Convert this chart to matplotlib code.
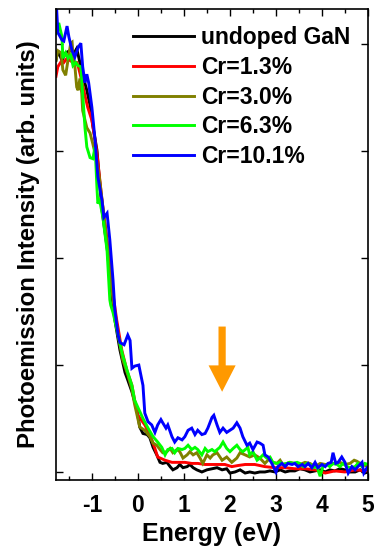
import numpy as np
import matplotlib
matplotlib.use("Agg")
import matplotlib.pyplot as plt
from matplotlib.ticker import MultipleLocator

plt.rcParams['font.family'] = ['Liberation Sans', 'DejaVu Sans']
plt.rcParams['font.weight'] = 'bold'

# (energy eV, intensity arb. units) pairs for each sample
undoped_gan = np.array([
    (-1.78, 3.85), (-1.74, 3.94), (-1.65, 3.85), (-1.57, 3.92), (-1.48, 3.94),
    (-1.37, 3.93), (-1.33, 3.96), (-1.26, 3.83), (-1.20, 3.71), (-1.11, 3.57),
    (-1.04, 3.43), (-0.98, 3.24), (-0.89, 3.01), (-0.78, 2.45), (-0.67, 2.10),
    (-0.57, 1.67), (-0.50, 1.42), (-0.39, 1.14), (-0.28, 0.93), (-0.22, 0.86),
    (-0.13, 0.75), (-0.02, 0.58), (0.04, 0.42), (0.11, 0.36), (0.20, 0.35),
    (0.26, 0.32), (0.33, 0.23), (0.41, 0.16), (0.48, 0.09), (0.54, 0.08),
    (0.63, 0.09), (0.70, 0.05), (0.76, 0.02), (0.85, 0.04), (0.91, 0.07),
    (0.98, 0.04), (1.07, 0.05), (1.13, 0.07), (1.20, 0.04), (1.28, 0.02),
    (1.39, 0.00), (1.50, 0.02), (1.61, 0.03), (1.72, 0.04), (1.83, 0.02),
    (1.93, 0.03), (2.00, -0.01), (2.11, 0.00), (2.22, 0.02), (2.33, -0.01),
    (2.43, 0.00), (2.54, -0.01), (2.65, 0.00), (2.76, 0.00), (2.87, 0.01),
    (2.98, 0.00), (3.09, 0.02), (3.20, 0.00), (3.30, 0.01), (3.41, 0.01),
    (3.52, 0.03), (3.63, 0.02), (3.74, 0.00), (3.85, 0.01), (3.96, 0.02),
    (4.07, 0.00), (4.17, 0.02), (4.28, 0.01), (4.39, 0.03), (4.50, 0.02),
    (4.61, 0.00), (4.72, 0.00), (4.83, 0.02), (4.93, -0.01), (5.00, 0.00),
])

cr_1_3 = np.array([
    (-1.78, 3.70), (-1.74, 3.79), (-1.65, 3.85), (-1.61, 3.83), (-1.54, 3.87),
    (-1.48, 3.85), (-1.41, 3.83), (-1.33, 3.83), (-1.30, 3.80), (-1.22, 3.66),
    (-1.15, 3.52), (-1.09, 3.41), (-1.00, 3.29), (-0.93, 3.10), (-0.89, 2.98),
    (-0.78, 2.54), (-0.67, 2.17), (-0.57, 1.75), (-0.46, 1.42), (-0.35, 1.14),
    (-0.24, 0.95), (-0.13, 0.81), (-0.07, 0.67), (0.00, 0.53), (0.15, 0.44),
    (0.26, 0.35), (0.37, 0.22), (0.43, 0.14), (0.59, 0.11), (0.74, 0.09),
    (0.87, 0.09), (1.02, 0.09), (1.17, 0.08), (1.30, 0.08), (1.46, 0.07),
    (1.61, 0.07), (1.74, 0.07), (1.89, 0.07), (2.04, 0.05), (2.17, 0.06),
    (2.33, 0.07), (2.54, 0.07), (2.76, 0.05), (2.98, 0.04), (3.20, 0.04),
    (3.41, 0.03), (3.63, 0.03), (3.85, 0.02), (4.07, -0.01), (4.28, 0.01),
    (4.50, 0.00), (4.72, 0.02), (5.00, 0.01),
])

cr_3_0 = np.array([
    (-1.78, 3.85), (-1.74, 3.94), (-1.67, 3.92), (-1.63, 3.76), (-1.57, 3.71),
    (-1.52, 3.85), (-1.46, 4.01), (-1.43, 4.02), (-1.41, 3.90), (-1.37, 3.80),
    (-1.33, 3.60), (-1.30, 3.57), (-1.26, 3.68), (-1.22, 3.54), (-1.20, 3.38),
    (-1.11, 3.22), (-1.04, 3.17), (-0.98, 3.07), (-0.91, 2.94), (-0.83, 2.73),
    (-0.74, 2.40), (-0.65, 2.07), (-0.54, 1.61), (-0.43, 1.28), (-0.33, 1.05),
    (-0.22, 0.91), (-0.13, 0.77), (-0.07, 0.63), (0.04, 0.42), (0.15, 0.39),
    (0.26, 0.33), (0.33, 0.27), (0.41, 0.25), (0.48, 0.21), (0.54, 0.18),
    (0.63, 0.19), (0.70, 0.22), (0.76, 0.18), (0.85, 0.21), (0.91, 0.19),
    (0.98, 0.13), (1.07, 0.16), (1.13, 0.19), (1.20, 0.16), (1.28, 0.18),
    (1.35, 0.13), (1.41, 0.08), (1.50, 0.16), (1.57, 0.13), (1.63, 0.16),
    (1.72, 0.18), (1.83, 0.11), (1.93, 0.14), (2.04, 0.09), (2.15, 0.13),
    (2.22, 0.18), (2.33, 0.16), (2.43, 0.14), (2.54, 0.16), (2.65, 0.13),
    (2.76, 0.08), (2.87, 0.13), (2.93, 0.09), (3.02, 0.08), (3.09, 0.11),
    (3.15, 0.07), (3.24, 0.08), (3.30, 0.09), (3.41, 0.08), (3.52, 0.07),
    (3.63, 0.09), (3.74, 0.08), (3.85, 0.05), (3.96, 0.08), (4.07, 0.07),
    (4.17, 0.07), (4.28, 0.08), (4.39, 0.09), (4.50, 0.07), (4.61, 0.08),
    (4.70, 0.11), (4.76, 0.10), (4.83, 0.08), (4.89, 0.07), (5.00, 0.05),
])

cr_6_3 = np.array([
    (-1.78, 4.10), (-1.72, 4.20), (-1.65, 4.07), (-1.63, 3.87), (-1.57, 3.92),
    (-1.52, 3.87), (-1.46, 3.90), (-1.41, 3.80), (-1.35, 3.83), (-1.30, 3.80),
    (-1.24, 3.79), (-1.20, 3.54), (-1.15, 3.22), (-1.11, 3.04), (-1.04, 2.94),
    (-0.98, 2.93), (-0.93, 3.04), (-0.91, 2.85), (-0.89, 2.66), (-0.87, 2.51),
    (-0.83, 2.54), (-0.76, 2.38), (-0.67, 2.07), (-0.61, 1.61), (-0.59, 1.56),
    (-0.54, 1.49), (-0.43, 1.28), (-0.33, 1.09), (-0.22, 0.93), (-0.13, 0.81),
    (-0.07, 0.67), (0.11, 0.50), (0.22, 0.41), (0.33, 0.33), (0.43, 0.28),
    (0.52, 0.23), (0.59, 0.16), (0.65, 0.21), (0.74, 0.22), (0.80, 0.18),
    (0.87, 0.22), (0.96, 0.21), (1.02, 0.22), (1.09, 0.25), (1.17, 0.21),
    (1.24, 0.23), (1.30, 0.21), (1.39, 0.16), (1.46, 0.22), (1.52, 0.19),
    (1.61, 0.21), (1.67, 0.19), (1.78, 0.23), (1.85, 0.28), (1.93, 0.22),
    (2.00, 0.19), (2.07, 0.22), (2.15, 0.25), (2.22, 0.21), (2.28, 0.19),
    (2.39, 0.23), (2.43, 0.16), (2.50, 0.19), (2.59, 0.11), (2.65, 0.13),
    (2.72, 0.16), (2.80, 0.13), (2.87, 0.14), (2.93, 0.09), (3.02, 0.08),
    (3.09, 0.09), (3.15, 0.07), (3.24, 0.08), (3.30, 0.09), (3.37, 0.08),
    (3.46, 0.09), (3.52, 0.08), (3.59, 0.05), (3.67, 0.08), (3.74, 0.07),
    (3.80, 0.04), (3.89, 0.05), (3.96, -0.04), (4.02, 0.05), (4.11, 0.07),
    (4.17, 0.05), (4.24, 0.08), (4.33, 0.07), (4.39, 0.05), (4.46, 0.08),
    (4.54, 0.05), (4.61, 0.04), (4.72, 0.05), (4.78, 0.08), (4.87, 0.05),
    (4.93, 0.08), (5.00, 0.07),
])

cr_10_1 = np.array([
    (-1.78, 4.45), (-1.74, 4.11), (-1.65, 4.04), (-1.61, 4.03), (-1.54, 4.17),
    (-1.50, 4.07), (-1.43, 3.94), (-1.37, 3.88), (-1.30, 3.97), (-1.24, 4.01),
    (-1.20, 3.79), (-1.15, 3.64), (-1.11, 3.72), (-1.07, 3.64), (-1.00, 3.41),
    (-0.93, 3.10), (-0.87, 2.76), (-0.78, 2.54), (-0.74, 2.38), (-0.67, 2.42),
    (-0.61, 2.17), (-0.54, 1.79), (-0.50, 1.51), (-0.43, 1.28), (-0.39, 1.21),
    (-0.30, 1.19), (-0.22, 1.28), (-0.17, 1.23), (-0.13, 0.97), (-0.07, 0.99),
    (0.02, 1.00), (0.11, 0.81), (0.15, 0.55), (0.22, 0.47), (0.30, 0.44),
    (0.37, 0.37), (0.43, 0.44), (0.50, 0.49), (0.54, 0.46), (0.61, 0.41),
    (0.65, 0.44), (0.74, 0.33), (0.80, 0.28), (0.87, 0.32), (0.96, 0.30),
    (1.02, 0.33), (1.09, 0.39), (1.17, 0.41), (1.24, 0.35), (1.30, 0.39),
    (1.39, 0.35), (1.46, 0.36), (1.52, 0.41), (1.61, 0.51), (1.65, 0.53),
    (1.72, 0.44), (1.78, 0.37), (1.85, 0.41), (1.93, 0.37), (2.00, 0.39),
    (2.07, 0.41), (2.15, 0.46), (2.22, 0.41), (2.28, 0.33), (2.37, 0.25),
    (2.43, 0.27), (2.50, 0.21), (2.59, 0.28), (2.65, 0.27), (2.72, 0.25),
    (2.76, 0.16), (2.83, 0.14), (2.91, 0.08), (3.00, 0.00), (3.04, 0.05),
    (3.13, 0.08), (3.20, 0.05), (3.26, 0.08), (3.35, 0.07), (3.41, 0.08),
    (3.48, 0.05), (3.57, 0.07), (3.63, 0.05), (3.70, 0.08), (3.78, 0.04),
    (3.85, 0.09), (3.91, 0.04), (4.00, 0.07), (4.07, 0.05), (4.13, 0.08),
    (4.20, 0.09), (4.24, 0.18), (4.30, 0.08), (4.35, 0.09), (4.43, 0.14),
    (4.50, 0.09), (4.57, -0.01), (4.65, 0.05), (4.72, 0.02), (4.78, 0.05),
    (4.87, 0.09), (4.91, -0.01), (4.98, 0.04),
])

series = [
    ("undoped GaN", undoped_gan, "#000000"),
    ("Cr=1.3%", cr_1_3, "#FF0000"),
    ("Cr=3.0%", cr_3_0, "#808000"),
    ("Cr=6.3%", cr_6_3, "#00FF00"),
    ("Cr=10.1%", cr_10_1, "#0000FF"),
]

x_ticks = [-1, 0, 1, 2, 3, 4, 5]
peak_marker_energy = 1.83          # orange arrow marks the Cr-induced feature
peak_marker_span = (1.36, 0.75)    # arrow tail and tip heights

fig = plt.figure(figsize=(3.75, 5.49), dpi=100)
ax = fig.add_axes([0.1493, 0.1257, 0.832, 0.8579])

for label, data, color in series:
    ax.plot(data[:, 0], data[:, 1], color=color, lw=2.1, label=label,
            solid_joinstyle='miter')

ax.annotate("", xy=(peak_marker_energy, peak_marker_span[1]),
            xytext=(peak_marker_energy, peak_marker_span[0]),
            arrowprops=dict(arrowstyle="simple,head_width=1.95,head_length=1.9,tail_width=0.52",
                            mutation_scale=10, color="#FF9900", lw=0,
                            shrinkA=0, shrinkB=0))

ax.set_xlim(-1.78, 5.0)
ax.set_ylim(-0.075, 4.33)
ax.set_xticks(x_ticks)
ax.set_xticklabels([str(t) for t in x_ticks])
ax.xaxis.set_minor_locator(MultipleLocator(0.5))
ax.yaxis.set_major_locator(MultipleLocator(1.0))
ax.set_yticklabels([])

ax.tick_params(which='both', direction='in', top=True, right=True, width=1.0)
ax.tick_params(which='major', length=5)
ax.tick_params(which='minor', length=3)
ax.tick_params(axis='x', which='major', labelsize=16.5, pad=10)
for lbl in ax.get_xticklabels():
    lbl.set_fontweight('bold')
for sp in ax.spines.values():
    sp.set_linewidth(1.2)

ax.set_xlabel("Energy (eV)", fontsize=18, fontweight='bold', labelpad=4)
ax.set_ylabel("Photoemission Intensity (arb. units)", fontsize=17.3,
              fontweight='bold', labelpad=8)

leg = ax.legend(loc='upper left', bbox_to_anchor=(0.247, 0.963), frameon=False,
                fontsize=16.5, handlelength=2.65, handletextpad=0.3,
                labelspacing=0.29, borderpad=0, borderaxespad=0)
for t in leg.get_texts():
    t.set_fontweight('bold')
for h in leg.get_lines():
    h.set_linewidth(2.1)

fig.savefig("out.png", dpi=100)
